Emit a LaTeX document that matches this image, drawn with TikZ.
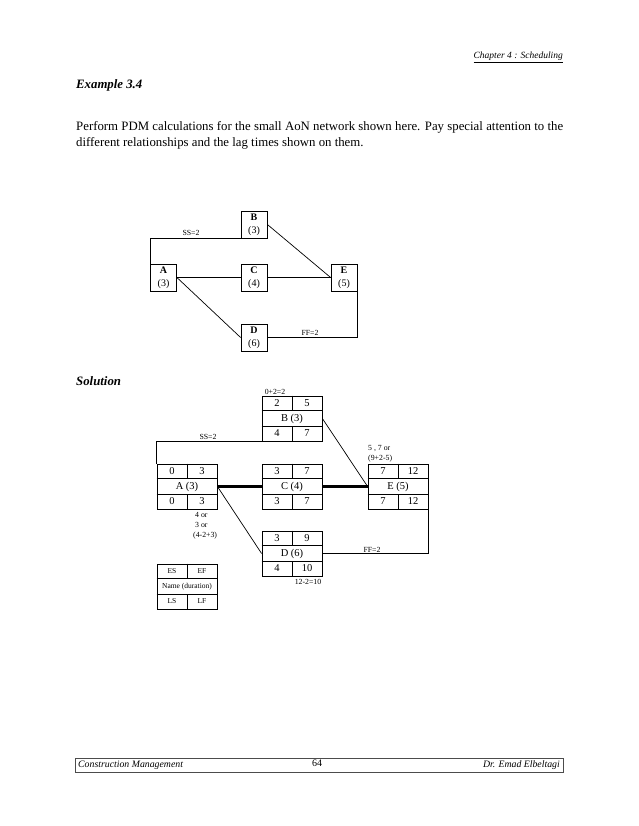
\documentclass[tikz,border=0pt]{standalone}
\usepackage{fontspec}
\setmainfont{Liberation Serif}
\newcommand\actbox[9]{%
  \node[abox] (#1) at (#2+30,#3+22.5) {};
  \draw[boxline] ([yshift=-15pt]#1.north west) -- ([yshift=-15pt]#1.north east);
  \draw[boxline] ([yshift=15pt]#1.south west) -- ([yshift=15pt]#1.south east);
  \draw[boxline] (#1.north) -- ([yshift=-15pt]#1.north);
  \draw[boxline] (#1.south) -- ([yshift=15pt]#1.south);
  \node[cell,font=#9] (#1-es) at (#2+15,#3+7.5) {#4};
  \node[cell,font=#9] (#1-ef) at (#2+45,#3+7.5) {#5};
  \node[cell,font=#9] (#1-nm) at (#2+30,#3+22.5) {#6};
  \node[cell,font=#9] (#1-ls) at (#2+15,#3+37.5) {#7};
  \node[cell,font=#9] (#1-lf) at (#2+45,#3+37.5) {#8};
}
\begin{document}
\begin{tikzpicture}[x=1pt,y=-1pt,
  lab/.style={font=\fontsize{7.8}{10}\selectfont, inner sep=0},
  sbox/.style={draw, line width=0.8pt, minimum width=26pt, minimum height=27pt, inner sep=0, align=center, font=\fontsize{10}{13}\selectfont},
  abox/.style={draw, line width=0.8pt, minimum width=60pt, minimum height=45pt, inner sep=0},
  boxline/.style={line width=0.8pt},
  cell/.style={inner sep=0},
  conn/.style={line width=0.7pt},
  heavyconn/.style={line width=2.6pt}]
\useasboundingbox (0,0) rectangle (638,826);

% header
\node[anchor=east, inner sep=0, font=\fontsize{9.5}{11}\selectfont\itshape] (hdr) at (563,57) {\underline{Chapter 4 : Scheduling}};
\node[anchor=west, inner sep=0, font=\fontsize{12.8}{16}\selectfont\bfseries\itshape] (ex) at (76,85) {Example 3.4};
\node[anchor=north west, inner sep=0, align=left, font=\fontsize{12.8}{16}\selectfont] (para) at (76,121)
  {\makebox[487pt][s]{Perform PDM calculations for the small AoN network shown here. Pay special attention to the}\\
   different relationships and the lag times shown on them.};

% small network
\node[sbox] (sB) at (254,224.5) {\textbf{B}\\(3)};
\node[sbox] (sA) at (163.5,277.5) {\textbf{A}\\(3)};
\node[sbox] (sC) at (254,277.5) {\textbf{C}\\(4)};
\node[sbox] (sE) at (344,277.5) {\textbf{E}\\(5)};
\node[sbox] (sD) at (254,337.5) {\textbf{D}\\(6)};
\draw[conn] (sA.north west) |- (sB.south west);
\draw[conn] (sA.east) -- (sC.west);
\draw[conn] (sC.east) -- (sE.west);
\draw[conn] (sB.east) -- (sE.west);
\draw[conn] (sA.east) -- (sD.west);
\draw[conn] (sD.east) -| (sE.south east);
\node[lab] (sss) at (191,233) {SS=2};
\node[lab] (sff) at (310,333) {FF=2};

% solution
\node[anchor=west, inner sep=0, font=\fontsize{12.8}{16}\selectfont\bfseries\itshape] (sol) at (76,381) {Solution};

\actbox{B}{262}{396}{2}{5}{B (3)}{4}{7}{\fontsize{10.5}{12}\selectfont}
\actbox{A}{157}{464}{0}{3}{A (3)}{0}{3}{\fontsize{10.5}{12}\selectfont}
\actbox{C}{262}{464}{3}{7}{C (4)}{3}{7}{\fontsize{10.5}{12}\selectfont}
\actbox{E}{368}{464}{7}{12}{E (5)}{7}{12}{\fontsize{10.5}{12}\selectfont}
\actbox{D}{262}{531}{3}{9}{D (6)}{4}{10}{\fontsize{10.5}{12}\selectfont}
\actbox{L}{157}{564}{ES}{EF}{Name (duration)}{LS}{LF}{\fontsize{7.5}{9}\selectfont}

\draw[conn] (A.north west) |- (B.south west);
\draw[heavyconn] (A.east) -- (C.west);
\draw[heavyconn] (C.east) -- (E.west);
\draw[conn] (B.east) -- (E.west);
\draw[conn] (A.east) -- (D.west);
\draw[conn] (D.east) -| (E.south east);

\node[lab] (l1) at (275,392) {0+2=2};
\node[lab] (l2) at (208,437) {SS=2};
\node[lab, anchor=north west, align=left] (l3) at (368,445) {5 , 7 or\\(9+2-5)};
\node[lab, anchor=north west, align=left] (l4) at (193,512) {\hspace*{2pt}4 or\\\hspace*{2pt}3 or\\(4-2+3)};
\node[lab] (l5) at (372,550) {FF=2};
\node[lab] (l6) at (308,582) {12-2=10};

% footer
\draw[line width=0.6pt, black!70] (75,758) rectangle (563,772);
\node[anchor=west, inner sep=0, font=\fontsize{9.8}{11}\selectfont\itshape] (f1) at (78,765) {Construction Management};
\node[inner sep=0, font=\fontsize{10}{11}\selectfont] (f2) at (317,763) {64};
\node[anchor=east, inner sep=0, font=\fontsize{9.8}{11}\selectfont\itshape] (f3) at (560,765) {Dr. Emad Elbeltagi};
\end{tikzpicture}
\end{document}
